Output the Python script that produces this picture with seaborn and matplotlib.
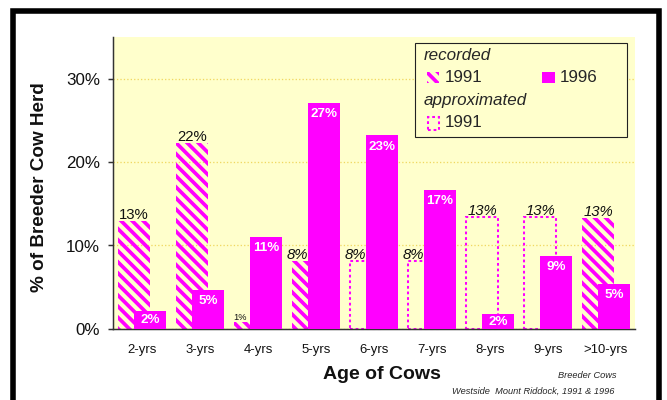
import matplotlib
matplotlib.use("Agg")
import matplotlib.pyplot as plt
from matplotlib.patches import Rectangle
import seaborn as sns
import numpy as np
import pandas as pd

# ---------------- data ----------------
ages = ["2-yrs", "3-yrs", "4-yrs", "5-yrs", "6-yrs", "7-yrs", "8-yrs", "9-yrs", ">10-yrs"]
pct_1991 = [12.9, 22.3, 0.8, 8.1, 8.1, 8.1, 13.4, 13.4, 13.3]
approx_1991 = [False, False, False, False, True, True, True, True, False]
italic_label_1991 = [False, False, False, True, True, True, True, True, True]
pct_1996 = [2.2, 4.7, 11.0, 27.1, 23.2, 16.7, 1.8, 8.8, 5.4]
yticks = [0, 10, 20, 30]

# ---------------- style ----------------
sns.set_style("white")
plt.rcParams["font.family"] = ["Liberation Sans", "DejaVu Sans"]
plt.rcParams["hatch.linewidth"] = 2.0

MAG = "#FF00FF"
BG = "#FFFFCC"
HATCH = chr(92) * 4
DPI = 133.4
fig = plt.figure(figsize=(5.0, 3.0), dpi=DPI, facecolor="white")


def fx(px):
    return px / 667.0


def fy(py):
    return 1 - py / 400.0


ax = fig.add_axes([fx(113), fy(329), fx(635) - fx(113), fy(37) - fy(329)])
ax.set_facecolor(BG)

BAR_W = 0.558
OFF = 0.138

df91 = pd.DataFrame({"age": ages, "pct": pct_1991})
df96 = pd.DataFrame({"age": ages, "pct": pct_1996})

n0 = len(ax.patches)
sns.barplot(data=df91, x="age", y="pct", order=ages, color=MAG, saturation=1,
            width=BAR_W, errorbar=None, ax=ax, zorder=2)
bars91 = ax.patches[n0:]
n1 = len(ax.patches)
sns.barplot(data=df96, x="age", y="pct", order=ages, color=MAG, saturation=1,
            width=BAR_W, errorbar=None, ax=ax, zorder=3)
bars96 = ax.patches[n1:]

for p, ap in zip(bars91, approx_1991):
    p.set_x(p.get_x() - OFF)
    p.set_facecolor("none")
    p.set_edgecolor(MAG)
    if ap:
        p.set_linewidth(1.1)
        p.set_linestyle((0, (1.35, 1.4)))
        p.set_hatch(None)
        p.set_clip_on(False)
    else:
        p.set_linewidth(0)
        p.set_hatch(HATCH)

for p in bars96:
    p.set_x(p.get_x() + OFF)
    p.set_facecolor(MAG)
    p.set_edgecolor("none")
    p.set_linewidth(0)

# value labels
for i, (v, it) in enumerate(zip(pct_1991, italic_label_1991)):
    x = i - OFF
    if pct_1996[i] > v:
        x -= 0.18
    fs = 5 if round(v) < 2 else 8
    ax.text(x, v + 0.3, f"{round(v)}%", ha="center", va="baseline", fontsize=fs,
            style="italic" if it else "normal", color="#111111", zorder=6)

for i, v in enumerate(pct_1996):
    y = max(v - 1.32, v / 2)
    ax.text(i + OFF, y, f"{round(v)}%", ha="center", va="center", fontsize=7.2,
            fontweight="bold", color="white", zorder=6)

# axes
ax.set_xlim(-0.5, 8.5)
ax.set_ylim(0, 35)
ax.set_yticks(yticks)
ax.set_yticklabels([f"{t}%" for t in yticks])
ax.set_xticks(range(len(ages)))
ax.set_xticklabels(ages)
ax.set_xticks(np.arange(-0.5, len(ages), 1.0), minor=True)
ax.tick_params(axis="x", which="major", length=0, pad=8, labelsize=7.1, labelcolor="#111111")
ax.tick_params(axis="x", which="minor", length=2.2, width=0.8, color="#333333", direction="out")
ax.tick_params(axis="y", length=2.7, width=0.8, direction="out", pad=4.3, labelsize=9.2,
               color="#333333", labelcolor="#111111", left=True)
ax.set_xlabel("")
ax.set_ylabel("")
for s in ["top", "right"]:
    ax.spines[s].set_visible(False)
for s in ["left", "bottom"]:
    ax.spines[s].set_color("#333333")
    ax.spines[s].set_linewidth(0.8)
ax.yaxis.grid(True, color="#F0D860", linestyle=":", linewidth=0.7)
ax.xaxis.grid(False)
ax.set_axisbelow(True)

# axis titles
fig.text(fx(382), fy(374), "Age of Cows", ha="center", va="center", fontsize=10.5,
         fontweight="bold", color="#111111")
fig.text(fx(40), fy(187.5), "% of Breeder Cow Herd", ha="center", va="center",
         rotation=90, fontsize=10.2, fontweight="bold", color="#111111")

# legend
fig.add_artist(Rectangle((fx(415), fy(137)), fx(627) - fx(415), fy(43) - fy(137),
                         transform=fig.transFigure, facecolor=BG, edgecolor="#222222",
                         lw=0.6, zorder=10))
LFS = 9.2
fig.text(fx(424), fy(55), "recorded", style="italic", fontsize=LFS, va="center", zorder=11)
fig.add_artist(Rectangle((fx(427), fy(83)), fx(439) - fx(427), fy(72) - fy(83),
                         transform=fig.transFigure, facecolor="none", edgecolor=MAG,
                         lw=0, hatch=HATCH, zorder=11))
fig.text(fx(445), fy(77.5), "1991", fontsize=LFS, va="center", zorder=11)
fig.add_artist(Rectangle((fx(542), fy(83)), fx(555) - fx(542), fy(72) - fy(83),
                         transform=fig.transFigure, facecolor=MAG, edgecolor="none",
                         lw=0, zorder=11))
fig.text(fx(560), fy(77.5), "1996", fontsize=LFS, va="center", zorder=11)
fig.text(fx(424), fy(100), "approximated", style="italic", fontsize=LFS, va="center", zorder=11)
fig.add_artist(Rectangle((fx(428), fy(130)), fx(439) - fx(428), fy(117) - fy(130),
                         transform=fig.transFigure, facecolor="none", edgecolor=MAG,
                         lw=1.1, linestyle=(0, (1.35, 1.4)), zorder=11))
fig.text(fx(445), fy(122.5), "1991", fontsize=LFS, va="center", zorder=11)

# footnotes
fig.text(fx(558), fy(375), "Breeder Cows", style="italic", fontsize=5, va="center", ha="left")
fig.text(fx(452), fy(391), "Westside  Mount Riddock, 1991 & 1996", style="italic", fontsize=5,
         va="center", ha="left")

# outer frame
fig.add_artist(Rectangle((fx(13.5), -0.1), fx(659) - fx(13.5), fy(11) + 0.1,
                         transform=fig.transFigure, fill=False, edgecolor="black",
                         lw=3.0, zorder=20))

fig.savefig("out.png", dpi=DPI, facecolor="white")
